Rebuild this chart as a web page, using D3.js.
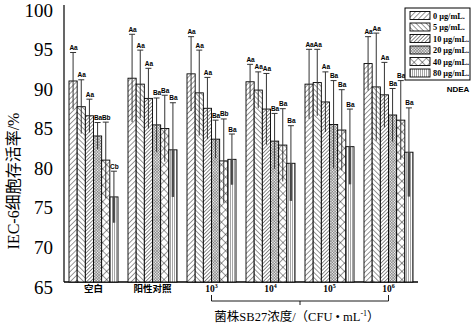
<!DOCTYPE html>
<html><head><meta charset="utf-8">
<script src="https://cdn.jsdelivr.net/npm/d3@7"></script>
<style>body{margin:0;background:#fff}svg{display:block}</style>
</head><body>
<svg id="c" width="471" height="324"></svg>
<script>
// ---- data ----
const groups = ["空白", "阳性对照", "10^3", "10^4", "10^5", "10^6"];
const series = ["0 μg/mL.", "5 μg/mL.", "10 μg/mL.", "20 μg/mL.", "40 μg/mL.", "80 μg/mL."];
const yTicks = [65, 70, 75, 80, 85, 90, 95, 100];

const meanBlank = [90.4, 87.15, 86.0, 83.45, 80.4, 75.75];
const meanPos   = [90.75, 90.0, 88.2, 84.85, 84.4, 81.7];
const mean1e3   = [91.3, 88.9, 86.95, 83.05, 80.3, 80.5];
const mean1e4   = [90.3, 89.25, 86.85, 82.8, 82.3, 80.0];
const mean1e5   = [90.0, 90.2, 87.75, 84.9, 84.2, 82.1];
const mean1e6   = [92.6, 89.65, 88.65, 86.1, 85.45, 81.4];

const sdBlank = [3.6, 3.4, 2.1, 1.7, 4.8, 3.25];
const sdPos   = [5.55, 4.3, 3.8, 3.4, 4.2, 5.95];
const sd1e3   = [4.7, 5.4, 3.9, 2.4, 5.3, 3.2];
const sd1e4   = [2.2, 2.3, 4.5, 3.5, 4.6, 4.75];
const sd1e5   = [4.4, 4.2, 3.8, 5.55, 5.1, 4.75];
const sd1e6   = [3.4, 6.8, 4.1, 3.35, 5.0, 5.6];

const lblBlank = ["Aa", "Aa", "Aa", "Ba", "Bb", "Cb"];
const lblPos   = ["Aa", "Aa", "Aa", "Ba", "Ba", "Ba"];
const lbl1e3   = ["Aa", "Aa", "Aa", "Ba", "Bb", "Ba"];
const lbl1e4   = ["Aa", "Aa", "Aa", "Ba", "Ba", "Ba"];
const lbl1e5   = ["Aa", "Aa", "Aa", "Ba", "Ba", "Ba"];
const lbl1e6   = ["Aa", "Aa", "Aa", "Ba", "Ba", "Ba"];

const means = [meanBlank, meanPos, mean1e3, mean1e4, mean1e5, mean1e6];
const sds = [sdBlank, sdPos, sd1e3, sd1e4, sd1e5, sd1e6];
const lbls = [lblBlank, lblPos, lbl1e3, lbl1e4, lbl1e5, lbl1e6];

const rows = [];
groups.forEach((g, gi) => series.forEach((s, si) => rows.push({
  g, s, si, v: means[gi][si], e: sds[gi][si], l: lbls[gi][si]
})));

// ---- chart ----
const svg = d3.select("#c");
const serif = "'Liberation Serif','Times New Roman','Noto Sans CJK SC',serif";
const cjk = "'Liberation Serif','Noto Sans CJK SC',serif";

const y = d3.scaleLinear().domain([65, 100]).range([282, 5]);
const x0 = d3.scaleBand().domain(groups).range([64, 418]).paddingInner(10 / 59).paddingOuter(5 / 59);
const x1 = d3.scaleBand().domain(series).range([0, x0.bandwidth()]);

// patterns
const defs = svg.append("defs");
function linePat(id, size, angle, sw, both, color) {
  const p = defs.append("pattern").attr("id", id).attr("patternUnits", "userSpaceOnUse")
    .attr("width", size).attr("height", size).attr("patternTransform", `rotate(${angle})`);
  p.append("rect").attr("width", size).attr("height", size).attr("fill", "#fff");
  p.append("line").attr("x1", 0).attr("y1", 0).attr("x2", 0).attr("y2", size)
    .attr("stroke", color || "#000").attr("stroke-width", sw);
  if (both) p.append("line").attr("x1", 0).attr("y1", 0).attr("x2", size).attr("y2", 0)
    .attr("stroke", color || "#000").attr("stroke-width", sw);
}
linePat("p0", 3.6, 45, 0.8, false);
linePat("p1", 3.6, -45, 0.8, false);
linePat("p2", 2.6, 45, 0.9, false);
linePat("p3", 2.0, 45, 0.75, true, "#222");
linePat("p4", 5.8, 45, 0.8, true);
linePat("p5", 2.0, 0, 0.7, false);
const patId = s => "url(#p" + series.indexOf(s) + ")";

// axes
svg.append("line").attr("x1", 64).attr("x2", 64).attr("y1", y(100)).attr("y2", y(65))
  .attr("stroke", "#000").attr("stroke-width", 1.2);
svg.append("line").attr("x1", 64).attr("x2", 418).attr("y1", y(65)).attr("y2", y(65))
  .attr("stroke", "#000").attr("stroke-width", 1.4);

svg.append("g").selectAll("text").data(yTicks).join("text")
  .attr("x", 53).attr("y", d => y(d) + 11.5).attr("text-anchor", "end")
  .attr("font-family", serif).attr("font-size", 19).text(d => d);

svg.append("text").attr("transform", "translate(19,181) rotate(-90)")
  .attr("text-anchor", "middle").attr("font-family", cjk).attr("font-size", 16)
  .text("IEC-6细胞存活率/%");

// x labels
const xl = svg.append("g").selectAll("text").data(groups).join("text")
  .attr("x", d => x0(d) + x0.bandwidth() / 2).attr("y", 292)
  .attr("text-anchor", "middle").attr("font-family", serif).attr("font-size", 9.5)
  .attr("font-weight", "bold");
xl.each(function (d) {
  const t = d3.select(this);
  const parts = d.split("^");
  t.append("tspan").text(parts[0]);
  if (parts[1]) t.append("tspan").attr("font-size", 6).attr("dy", -4).text(parts[1]);
});

// bracket
const bx1 = x0("10^3") + x0.bandwidth() / 2, bx2 = x0("10^6") + x0.bandwidth() / 2;
svg.append("path").attr("fill", "none").attr("stroke", "#000").attr("stroke-width", 0.9)
  .attr("d", `M${bx1},295 V301 H${bx2} V295 M${(bx1 + bx2) / 2},301 V305`);
const tt = svg.append("text").attr("x", (bx1 + bx2) / 2 - 3).attr("y", 321).attr("text-anchor", "middle")
  .attr("font-family", cjk).attr("font-size", 12.5);
tt.append("tspan").text("菌株SB27浓度/（CFU • mL");
tt.append("tspan").attr("font-size", 8).attr("dy", -5).text("-1");
tt.append("tspan").attr("dy", 5).text("）");

// bars
const bars = svg.append("g");
bars.selectAll("rect.b").data(rows).join("rect").attr("class", "b")
  .attr("x", d => x0(d.g) + x1(d.s)).attr("width", x1.bandwidth())
  .attr("y", d => y(d.v)).attr("height", d => y(65) - y(d.v))
  .attr("fill", d => patId(d.s)).attr("stroke", "#000").attr("stroke-width", 0.9);

// dark band inside the 80 bars (error line through pattern)
bars.selectAll("rect.band").data(rows.filter(d => d.si === 5)).join("rect").attr("class", "band")
  .attr("x", d => x0(d.g) + x1(d.s) + x1.bandwidth() / 2 - 1.3).attr("width", 2.6)
  .attr("y", d => y(d.v)).attr("height", d => y(d.v - d.e) - y(d.v)).attr("fill", "#666");

// error bars
const eb = svg.append("g").attr("stroke", "#333").attr("stroke-width", 1);
eb.selectAll("line.v").data(rows).join("line").attr("class", "v")
  .attr("x1", d => x0(d.g) + x1(d.s) + x1.bandwidth() / 2)
  .attr("x2", d => x0(d.g) + x1(d.s) + x1.bandwidth() / 2)
  .attr("y1", d => y(d.v + d.e)).attr("y2", d => y(d.v - d.e));
eb.selectAll("line.c").data(rows).join("line").attr("class", "c")
  .attr("x1", d => x0(d.g) + x1(d.s) + x1.bandwidth() / 2 - 3)
  .attr("x2", d => x0(d.g) + x1(d.s) + x1.bandwidth() / 2 + 3)
  .attr("y1", d => y(d.v + d.e)).attr("y2", d => y(d.v + d.e));

// significance letters
svg.append("g").selectAll("text").data(rows).join("text")
  .attr("x", d => x0(d.g) + x1(d.s) + x1.bandwidth() / 2 + 0.5)
  .attr("y", d => y(d.v + d.e) - 2.5).attr("text-anchor", "middle")
  .attr("font-family", "'Liberation Sans',Arial,sans-serif").attr("font-size", 6.5)
  .attr("font-weight", "bold").text(d => d.l);

// legend
const lg = svg.append("g");
lg.append("rect").attr("x", 405).attr("y", 8).attr("width", 65).attr("height", 72)
  .attr("fill", "#fff").attr("stroke", "#000").attr("stroke-width", 1);
const li = lg.selectAll("g.i").data(series).join("g").attr("class", "i")
  .attr("transform", (d, i) => `translate(410,${11.5 + i * 11.5})`);
li.append("rect").attr("width", 20).attr("height", 8).attr("fill", d => patId(d))
  .attr("stroke", "#000").attr("stroke-width", 0.9);
li.append("text").attr("x", 23).attr("y", 7).attr("font-family", serif)
  .attr("font-size", 8.3).attr("font-weight", "bold").text(d => d);
lg.append("text").attr("x", 458).attr("y", 91.5).attr("text-anchor", "middle")
  .attr("font-family", "'Liberation Sans',Arial,sans-serif").attr("font-size", 8)
  .attr("font-weight", "bold").text("NDEA");
</script>
</body></html>
